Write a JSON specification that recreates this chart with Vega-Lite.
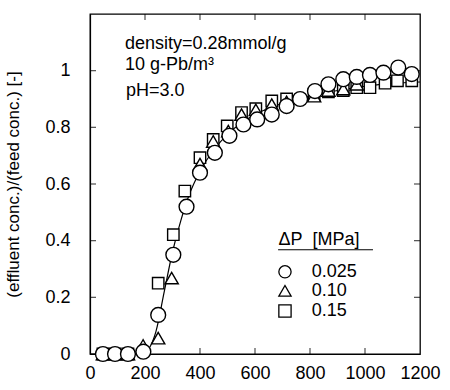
{
  "$schema": "https://vega.github.io/schema/vega-lite/v6.json",
  "autosize": {"type": "none"},
  "padding": {"left": 90, "top": 14, "right": 30, "bottom": 36},
  "width": 330,
  "height": 340,
  "background": "white",
  "view": {"stroke": "black", "strokeWidth": 1.3},
  "config": {
    "font": "Liberation Sans",
    "axis": {
      "grid": false,
      "ticks": false,
      "domainColor": "black",
      "domainWidth": 1.2,
      "labelColor": "black",
      "labelFont": "Liberation Sans",
      "labelFontSize": 18,
      "titleColor": "black",
      "titleFont": "Liberation Sans",
      "titleFontWeight": "normal"
    }
  },
  "datasets": {
    "curve": [
      {"t": 0, "c": 0}, {"t": 190, "c": 0.0}, {"t": 215, "c": 0.02}, {"t": 240, "c": 0.08},
      {"t": 270, "c": 0.22}, {"t": 300, "c": 0.36}, {"t": 330, "c": 0.47}, {"t": 360, "c": 0.56},
      {"t": 400, "c": 0.645}, {"t": 450, "c": 0.72}, {"t": 500, "c": 0.775}, {"t": 550, "c": 0.815},
      {"t": 600, "c": 0.845}, {"t": 700, "c": 0.885}, {"t": 800, "c": 0.91}, {"t": 900, "c": 0.93},
      {"t": 1000, "c": 0.945}, {"t": 1100, "c": 0.955}, {"t": 1200, "c": 0.96}
    ],
    "points": [
      {"t": 47, "c": 0.0, "s": "0.15"}, {"t": 91, "c": 0.0, "s": "0.15"}, {"t": 138, "c": 0.0, "s": "0.15"},
      {"t": 248, "c": 0.25, "s": "0.15"}, {"t": 303, "c": 0.421, "s": "0.15"}, {"t": 345, "c": 0.575, "s": "0.15"},
      {"t": 400, "c": 0.693, "s": "0.15"}, {"t": 448, "c": 0.757, "s": "0.15"}, {"t": 499, "c": 0.805, "s": "0.15"},
      {"t": 551, "c": 0.852, "s": "0.15"}, {"t": 603, "c": 0.866, "s": "0.15"}, {"t": 661, "c": 0.893, "s": "0.15"},
      {"t": 715, "c": 0.9, "s": "0.15"}, {"t": 815, "c": 0.915, "s": "0.15"}, {"t": 867, "c": 0.925, "s": "0.15"},
      {"t": 921, "c": 0.93, "s": "0.15"}, {"t": 970, "c": 0.94, "s": "0.15"}, {"t": 1018, "c": 0.94, "s": "0.15"},
      {"t": 1073, "c": 0.956, "s": "0.15"}, {"t": 1118, "c": 0.964, "s": "0.15"}, {"t": 1170, "c": 0.964, "s": "0.15"},
      {"t": 47, "c": 0.0, "s": "0.10"}, {"t": 91, "c": 0.0, "s": "0.10"}, {"t": 138, "c": 0.0, "s": "0.10"},
      {"t": 193, "c": 0.03, "s": "0.10"}, {"t": 248, "c": 0.056, "s": "0.10"}, {"t": 297, "c": 0.268, "s": "0.10"},
      {"t": 400, "c": 0.67, "s": "0.10"}, {"t": 448, "c": 0.75, "s": "0.10"}, {"t": 503, "c": 0.787, "s": "0.10"},
      {"t": 551, "c": 0.845, "s": "0.10"}, {"t": 603, "c": 0.862, "s": "0.10"}, {"t": 661, "c": 0.88, "s": "0.10"},
      {"t": 715, "c": 0.89, "s": "0.10"}, {"t": 815, "c": 0.91, "s": "0.10"}, {"t": 867, "c": 0.93, "s": "0.10"},
      {"t": 921, "c": 0.935, "s": "0.10"}, {"t": 970, "c": 0.952, "s": "0.10"},
      {"t": 47, "c": 0.0, "s": "0.025"}, {"t": 91, "c": 0.0, "s": "0.025"}, {"t": 138, "c": 0.0, "s": "0.025"},
      {"t": 194, "c": 0.008, "s": "0.025"}, {"t": 248, "c": 0.138, "s": "0.025"}, {"t": 303, "c": 0.35, "s": "0.025"},
      {"t": 351, "c": 0.52, "s": "0.025"}, {"t": 400, "c": 0.64, "s": "0.025"}, {"t": 454, "c": 0.71, "s": "0.025"},
      {"t": 507, "c": 0.77, "s": "0.025"}, {"t": 558, "c": 0.81, "s": "0.025"}, {"t": 608, "c": 0.828, "s": "0.025"},
      {"t": 661, "c": 0.845, "s": "0.025"}, {"t": 715, "c": 0.875, "s": "0.025"}, {"t": 764, "c": 0.9, "s": "0.025"},
      {"t": 818, "c": 0.928, "s": "0.025"}, {"t": 867, "c": 0.952, "s": "0.025"}, {"t": 921, "c": 0.97, "s": "0.025"},
      {"t": 970, "c": 0.978, "s": "0.025"}, {"t": 1018, "c": 0.985, "s": "0.025"}, {"t": 1067, "c": 0.993, "s": "0.025"},
      {"t": 1121, "c": 1.011, "s": "0.025"}, {"t": 1170, "c": 0.988, "s": "0.025"}
    ],
    "notes": [
      {"t": 127, "c": 1.094, "label": "density=0.28mmol/g"},
      {"t": 127, "c": 1.02, "label": "10 g-Pb/m³"},
      {"t": 131, "c": 0.927, "label": "pH=3.0"},
      {"t": 685, "c": 0.404, "label": "ΔP\u00a0\u00a0[MPa]"},
      {"t": 806, "c": 0.29, "label": "0.025"},
      {"t": 806, "c": 0.223, "label": "0.10"},
      {"t": 806, "c": 0.152, "label": "0.15"}
    ],
    "legendsym": [
      {"t": 709, "c": 0.29, "s": "0.025"},
      {"t": 709, "c": 0.223, "s": "0.10"},
      {"t": 709, "c": 0.152, "s": "0.15"}
    ],
    "underline": [{"t": 684, "t2": 1029, "c": 0.368}],
    "xticks": [{"t": 200}, {"t": 400}, {"t": 600}, {"t": 800}, {"t": 1000}],
    "yticks": [{"c": 0.2}, {"c": 0.4}, {"c": 0.6}, {"c": 0.8}, {"c": 1.0}]
  },
  "layer": [
    {
      "data": {"name": "curve"},
      "mark": {"type": "line", "color": "black", "strokeWidth": 1.2, "interpolate": "monotone"},
      "encoding": {
        "x": {"field": "t", "type": "quantitative",
              "scale": {"domain": [0, 1200], "nice": false, "zero": false},
              "axis": {"orient": "bottom", "values": [0, 200, 400, 600, 800, 1000, 1200], "format": "d", "labelPadding": 10, "title": null, "labelFlush": false}},
        "y": {"field": "c", "type": "quantitative",
              "scale": {"domain": [0, 1.2], "nice": false, "zero": false},
              "axis": {"orient": "left", "values": [0, 0.2, 0.4, 0.6, 0.8, 1], "format": "~g", "labelPadding": 20, "labelFlush": false,
                       "title": "(effluent conc.)/(feed conc.) [-]", "titleFontSize": 17, "titlePadding": 22}}
      }
    },
    {
      "data": {"name": "xticks"},
      "mark": {"type": "tick", "orient": "vertical", "color": "black", "size": 6, "thickness": 1.2, "yOffset": -3},
      "encoding": {
        "x": {"field": "t", "type": "quantitative"},
        "y": {"datum": 0, "type": "quantitative"}
      }
    },
    {
      "data": {"name": "xticks"},
      "mark": {"type": "tick", "orient": "vertical", "color": "black", "size": 6, "thickness": 1.2, "yOffset": 3},
      "encoding": {
        "x": {"field": "t", "type": "quantitative"},
        "y": {"datum": 1.2, "type": "quantitative"}
      }
    },
    {
      "data": {"name": "yticks"},
      "mark": {"type": "tick", "orient": "horizontal", "color": "black", "size": 6, "thickness": 1.2, "xOffset": 3},
      "encoding": {
        "y": {"field": "c", "type": "quantitative"},
        "x": {"datum": 0, "type": "quantitative"}
      }
    },
    {
      "data": {"name": "yticks"},
      "mark": {"type": "tick", "orient": "horizontal", "color": "black", "size": 6, "thickness": 1.2, "xOffset": -3},
      "encoding": {
        "y": {"field": "c", "type": "quantitative"},
        "x": {"datum": 1200, "type": "quantitative"}
      }
    },
    {
      "data": {"name": "notes"},
      "mark": {"type": "text", "align": "left", "baseline": "middle", "fontSize": 18, "font": "Liberation Sans", "color": "black"},
      "encoding": {
        "x": {"field": "t", "type": "quantitative"},
        "y": {"field": "c", "type": "quantitative"},
        "text": {"field": "label"}
      }
    },
    {
      "data": {"name": "underline"},
      "mark": {"type": "rule", "color": "black", "strokeWidth": 1.2},
      "encoding": {
        "x": {"field": "t", "type": "quantitative"},
        "x2": {"field": "t2"},
        "y": {"field": "c", "type": "quantitative"}
      }
    },
    {
      "data": {"name": "points"},
      "mark": {"type": "point", "filled": false, "fill": "white", "fillOpacity": 1, "stroke": "black", "strokeWidth": 1.4, "opacity": 1},
      "encoding": {
        "x": {"field": "t", "type": "quantitative"},
        "y": {"field": "c", "type": "quantitative"},
        "shape": {"field": "s", "type": "nominal", "legend": null,
                  "scale": {"domain": ["0.025", "0.10", "0.15"], "range": ["circle", "triangle-up", "square"]}},
        "size": {"field": "s", "type": "nominal", "legend": null,
                 "scale": {"domain": ["0.025", "0.10", "0.15"], "range": [220, 130, 175]}}
      }
    },
    {
      "data": {"name": "legendsym"},
      "mark": {"type": "point", "filled": false, "fill": "white", "fillOpacity": 1, "stroke": "black", "strokeWidth": 1.3, "opacity": 1},
      "encoding": {
        "x": {"field": "t", "type": "quantitative"},
        "y": {"field": "c", "type": "quantitative"},
        "shape": {"field": "s", "type": "nominal", "legend": null,
                  "scale": {"domain": ["0.025", "0.10", "0.15"], "range": ["circle", "triangle-up", "square"]}},
        "size": {"value": 150}
      }
    }
  ]
}
